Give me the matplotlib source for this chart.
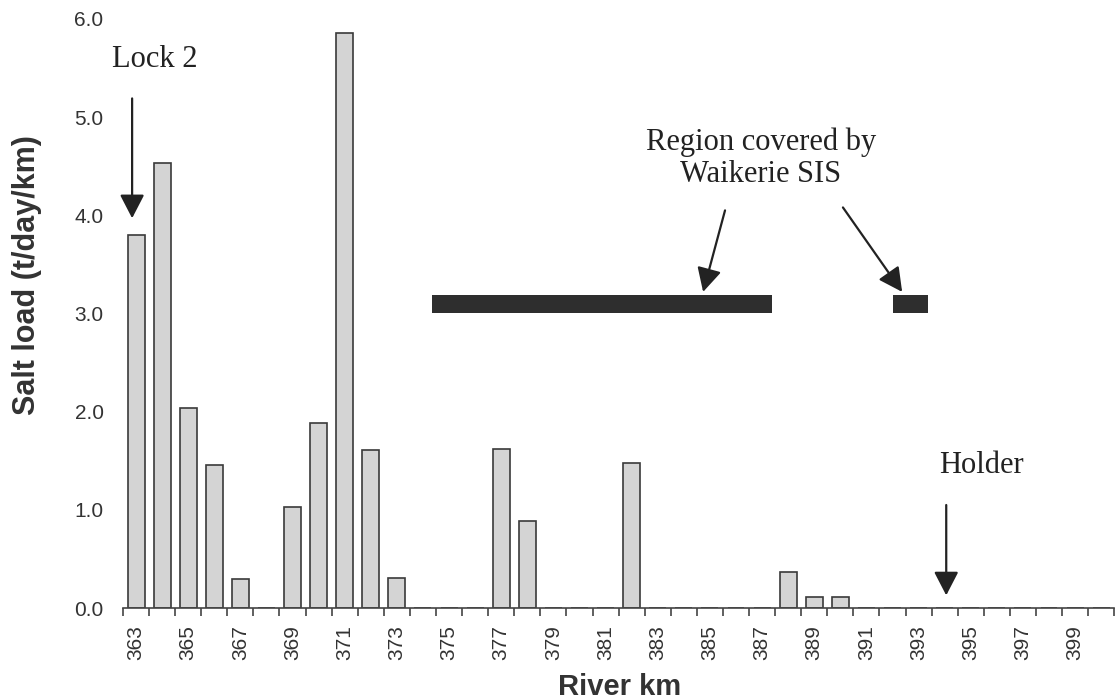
import matplotlib
matplotlib.use("Agg")
import matplotlib.pyplot as plt
import numpy as np

# river km and salt load (t/day/km)
km = list(range(363, 401))
load = [3.80, 4.53, 2.04, 1.46, 0.30, 0.0, 1.03, 1.89, 5.86, 1.61,
        0.31, 0.0, 0.0, 0.0, 1.62, 0.89, 0.0, 0.0, 0.0, 1.48,
        0.0, 0.0, 0.0, 0.0, 0.0, 0.37, 0.11, 0.11, 0.0, 0.0,
        0.0, 0.0, 0.0, 0.0, 0.0, 0.0, 0.0, 0.0]

# Waikerie SIS coverage (start km, length km) drawn at this load band
sis_spans = [(374.35, 13.04), (392.02, 1.35)]
sis_level = (3.01, 0.18)

tick_km = [k for k in km if k % 2 == 1]
tick_labels = [str(k) for k in tick_km]
y_ticks = [0.0, 1.0, 2.0, 3.0, 4.0, 5.0, 6.0]

plt.rcParams['font.family'] = ['Liberation Sans', 'DejaVu Sans']

fig = plt.figure(figsize=(11.15, 6.99), dpi=100)
ax = fig.add_axes([0.1103, 0.130, 0.889, 0.843])

ax.bar(km, load, width=0.65, color='#d4d4d4', edgecolor='#3a3a3a', linewidth=1.2)
ax.broken_barh(sis_spans, sis_level, facecolors='#2e2e2e')

ax.set_xlim(km[0] - 0.5, km[-1] + 0.5)
ax.set_ylim(0, 6.0)

ax.set_xticks(tick_km)
ax.set_xticklabels(tick_labels, rotation=90, fontsize=15, color='#333333')
ax.set_xticks(np.arange(km[0] - 0.5, km[-1] + 1.0, 1.0), minor=True)
ax.tick_params(axis='x', which='major', length=0, pad=12)
ax.tick_params(axis='x', which='minor', length=6, width=1.2, color='#444444', direction='out')

ax.set_yticks(y_ticks)
ax.set_yticklabels(['%.1f' % v for v in y_ticks], fontsize=15, color='#333333')
ax.tick_params(axis='y', length=0, pad=14)

for s in ['top', 'right', 'left']:
    ax.spines[s].set_visible(False)
ax.spines['bottom'].set_color('#444444')
ax.spines['bottom'].set_linewidth(1.2)

fig.text(27 / 1115, 1 - 275 / 699, 'Salt load (t/day/km)', rotation=90, fontsize=22,
         fontweight='bold', color='#333333', ha='center', va='center')
fig.text(620 / 1115, 4 / 699, 'River km', fontsize=21, fontweight='bold',
         color='#333333', ha='center', va='baseline')

serif = ['Liberation Serif', 'DejaVu Serif']
arrow = dict(arrowstyle='-|>,head_length=1.45,head_width=0.75', mutation_scale=10,
             color='#222222', lw=1.6, shrinkA=0, shrinkB=0)
txt = dict(fontsize=22, family=serif, ha='center', va='baseline', color='#222222')

ax.text(363.73, 5.51, 'Lock 2', **txt)
ax.annotate('', xy=(362.85, 3.97), xytext=(362.85, 5.19), arrowprops=arrow)

ax.text(386.95, 4.664, 'Region covered by', **txt)
ax.text(386.95, 4.338, 'Waikerie SIS', **txt)
ax.annotate('', xy=(384.74, 3.22), xytext=(385.58, 4.05), arrowprops=arrow)
ax.annotate('', xy=(392.37, 3.22), xytext=(390.1, 4.08), arrowprops=arrow)

ax.text(395.4, 1.375, 'Holder', **txt)
ax.annotate('', xy=(394.06, 0.13), xytext=(394.06, 1.05), arrowprops=arrow)

fig.savefig('out.png', dpi=100)
